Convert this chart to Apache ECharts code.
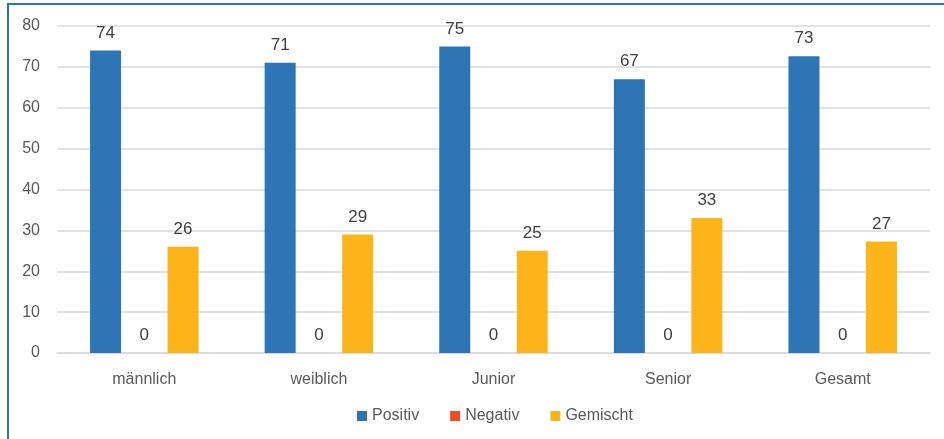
<!DOCTYPE html>
<html>
<head>
<meta charset="utf-8">
<style>
  html, body { margin: 0; padding: 0; background: #fff; }
  #frame { position: absolute; left: 7px; top: 3px; width: 937px; height: 436px;
    border-left: 2px solid #2e75b6; border-top: 2px solid #2e75b6; }
  #chart { position: absolute; left: 0; top: 0; width: 944px; height: 439px; }
</style>
<script src="https://cdn.jsdelivr.net/npm/echarts@6/dist/echarts.min.js"></script>
</head>
<body>
<div id="frame"></div>
<div id="chart"></div>
<script>
const categories = ['männlich', 'weiblich', 'Junior', 'Senior', 'Gesamt']
const positiv = [74, 71, 75, 67, 72.6]
const negativ = [0, 0, 0, 0, 0]
const gemischt = [26, 29, 25, 33, 27.3]
const yTicks = [0, 80, 10]

const chart = echarts.init(document.getElementById('chart'))

const label = {
  show: true,
  position: 'top',
  distance: 9,
  color: '#404040',
  fontSize: 17,
  fontFamily: 'Liberation Sans, Arial, sans-serif',
  formatter: p => Math.round(p.value)
}

chart.setOption({
  animation: false,
  textStyle: { fontFamily: 'Liberation Sans, Arial, sans-serif' },
  grid: { left: 57, right: 14, top: 26, bottom: 86 },
  legend: {
    top: 403,
    left: 352,
    itemWidth: 10,
    itemHeight: 10,
    itemGap: 31,
    icon: 'rect',
    textStyle: { color: '#595959', fontSize: 16 },
    data: ['Positiv', 'Negativ', 'Gemischt']
  },
  xAxis: {
    type: 'category',
    data: categories,
    axisLine: { lineStyle: { color: '#d9d9d9', width: 1.5 } },
    axisTick: { show: false },
    axisLabel: { color: '#595959', fontSize: 16, margin: 19 }
  },
  yAxis: {
    type: 'value',
    min: yTicks[0],
    max: yTicks[1],
    interval: yTicks[2],
    axisLine: { show: false },
    axisTick: { show: false },
    axisLabel: { color: '#595959', fontSize: 16, margin: 17 },
    splitLine: { lineStyle: { color: '#d9d9d9', width: 1.5 } }
  },
  series: [
    {
      name: 'Positiv', type: 'bar', data: positiv, barWidth: 31, barGap: '25%',
      itemStyle: { color: '#2e75b6' }, label
    },
    {
      name: 'Negativ', type: 'bar', data: negativ, barWidth: 31, barGap: '25%',
      itemStyle: { color: '#f04b28' }, label
    },
    {
      name: 'Gemischt', type: 'bar', data: gemischt, barWidth: 31, barGap: '25%',
      itemStyle: { color: '#fbb51a' }, label
    }
  ]
})
</script>
</body>
</html>
